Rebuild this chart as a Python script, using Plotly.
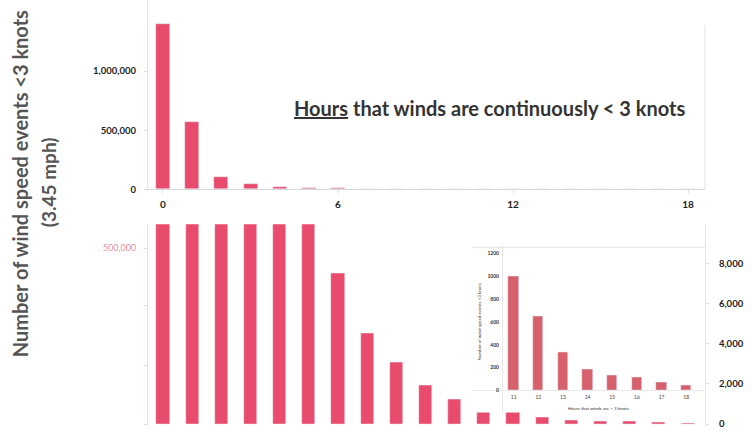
import plotly.graph_objects as go

# ---- data ----
hours = list(range(19))
counts = [1398000, 568000, 100000, 45000, 20000, 11500, 7520, 4550, 3070,
          1950, 1240, 1000, 650, 334, 184, 132, 114, 70, 44]
top_ticks = [0, 500000, 1000000]
top_xticks = [0, 6, 12, 18]
right_ticks = [0, 2000, 4000, 6000, 8000]
inset_hours = [11, 12, 13, 14, 15, 16, 17, 18]
inset_labels = ["11", "12", "13", "14", "15", "16", "17", "18"]
inset_counts = [1000, 650, 334, 184, 132, 114, 70, 44]
inset_ticks = [0, 200, 400, 600, 800, 1000, 1200]

W, H = 752, 432
K = 1.013
def px(x):
    return x / W
def py(y):
    return 1 - min(y * K, H) / H

BAR = "#e84b6c"
INSET_BAR = "#d6606b"
FONT = "Lato"

fig = go.Figure()
fig.add_trace(go.Bar(x=hours, y=counts, marker_color=BAR, width=0.48,
                     xaxis="x", yaxis="y", showlegend=False))
fig.add_trace(go.Bar(x=hours, y=counts, marker_color=BAR, width=0.45,
                     xaxis="x2", yaxis="y2", showlegend=False))
fig.add_trace(go.Scatter(x=[None], y=[None], xaxis="x2", yaxis="y3",
                         showlegend=False, hoverinfo="skip"))
fig.add_trace(go.Bar(x=inset_hours, y=inset_counts, marker_color=INSET_BAR, width=0.42,
                     xaxis="x3", yaxis="y4", showlegend=False))

xr = [-0.514, 18.58]
# bottom chart: zero at 423.5 px, 20 px per 1000, top of plot at 224 px
b_top = 224 * K
b_zero = 423.5 * K
b_scale = 20 * K / 1000
yr2 = [-(H - b_zero) / b_scale, (b_zero - b_top) / b_scale]

tickfont = dict(family=FONT, size=10, color="#222", weight="bold")

fig.update_layout(
    width=W, height=H, autosize=False,
    margin=dict(l=0, r=0, t=0, b=0),
    paper_bgcolor="white", plot_bgcolor="white",
    bargap=0,
    xaxis=dict(domain=[px(148), px(705)], range=xr, anchor="y",
               tickvals=top_xticks, tickfont=tickfont, showgrid=False, zeroline=False,
               showline=True, linecolor="#d8d8d8", ticks="outside", ticklen=3,
               tickcolor="#ddd", ticklabelstandoff=3),
    yaxis=dict(domain=[py(189), 1], range=[0, 1602000], anchor="x",
               tickvals=top_ticks, tickformat=",", tickfont=dict(family=FONT, size=9.5, color="#222", weight="bold"),
               showgrid=False, zeroline=False, showline=True, linecolor="#e6e6e6",
               ticks="outside", ticklen=3, tickcolor="#ddd", ticklabelstandoff=6),
    xaxis2=dict(domain=[px(148), px(705)], range=xr, anchor="y2",
                showticklabels=False, showgrid=False, zeroline=False, showline=False, ticks=""),
    yaxis2=dict(domain=[0, py(224)], range=yr2, anchor="x2", side="right",
                tickvals=right_ticks, tickformat=",",
                tickfont=dict(family=FONT, size=9.5, color="#222", weight="bold"),
                showgrid=False, zeroline=False, showline=True, linecolor="#e6e6e6",
                ticks="outside", ticklen=3, tickcolor="#ddd", ticklabelstandoff=8),
    yaxis3=dict(overlaying="y2", range=yr2, anchor="x2", side="left",
                tickvals=[8775, 5925, 2925, 0], ticktext=["500,000", "", "", ""],
                tickfont=dict(family=FONT, size=9, color="#e58fa5"),
                showgrid=False, zeroline=False, showline=True, linecolor="#e6e6e6",
                ticks="outside", ticklen=3, tickcolor="#ddd", ticklabelstandoff=6),
    xaxis3=dict(domain=[px(472), px(703)], range=[9.31, 18.68], anchor="free",
                position=py(390), tickvals=inset_hours, ticktext=inset_labels,
                tickfont=dict(family=FONT, size=5, color="#444"),
                showgrid=False, zeroline=False, showline=True, linecolor="#e8e8e8",
                ticks="", ticklabelstandoff=2),
    yaxis4=dict(domain=[py(412), py(245)], range=[-193, 1270], anchor="free",
                position=px(502), tickvals=inset_ticks,
                tickfont=dict(family=FONT, size=5, color="#333", weight="bold"),
                showgrid=False, zeroline=False, showline=True, linecolor="#e8e8e8",
                ticks="", ticklabelstandoff=2),
)

annotations = [
    dict(text="<u>Hours</u> that winds are continuously &lt; 3 knots",
         x=px(490), y=py(108), xref="paper", yref="paper", showarrow=False,
         xanchor="center", yanchor="middle",
         font=dict(family=FONT, size=20, color="#333", weight="bold")),
    dict(text="Number of wind speed events &lt;3 knots", textangle=-90,
         x=px(20), y=py(184), xref="paper", yref="paper", showarrow=False,
         xanchor="center", yanchor="middle",
         font=dict(family=FONT, size=20, color="#555", weight="bold")),
    dict(text="(3.45 mph)", textangle=-90,
         x=px(48), y=py(182), xref="paper", yref="paper", showarrow=False,
         xanchor="center", yanchor="middle",
         font=dict(family=FONT, size=19, color="#555", weight="bold")),
    dict(text="Number of wind speed events &lt;3 knots", textangle=-90,
         x=px(479), y=py(322), xref="paper", yref="paper", showarrow=False,
         xanchor="center", yanchor="middle",
         font=dict(family=FONT, size=4.5, color="#333")),
    dict(text="Hours that winds are &lt; 3 knots",
         x=px(598), y=py(408), xref="paper", yref="paper", showarrow=False,
         xanchor="center", yanchor="middle",
         font=dict(family=FONT, size=4.5, color="#333")),
]
fig.update_layout(annotations=annotations)

shapes = [
    dict(type="line", xref="paper", yref="paper", x0=px(705), x1=px(705),
         y0=py(25), y1=py(189), line=dict(color="#e2e2e2", width=1)),
    dict(type="line", xref="paper", yref="paper", x0=px(472), x1=px(705),
         y0=py(247), y1=py(247), line=dict(color="#e2e2e2", width=1)),
]
fig.update_layout(shapes=shapes)

fig.write_html(
    "out.html",
    config={"displayModeBar": False},
    post_script=(
        "var s=document.documentElement.style;s.margin='0';s.padding='0';s.overflow='hidden';"
        "var b=document.body.style;b.margin='0';b.padding='0';b.overflow='hidden';"
    ),
)
